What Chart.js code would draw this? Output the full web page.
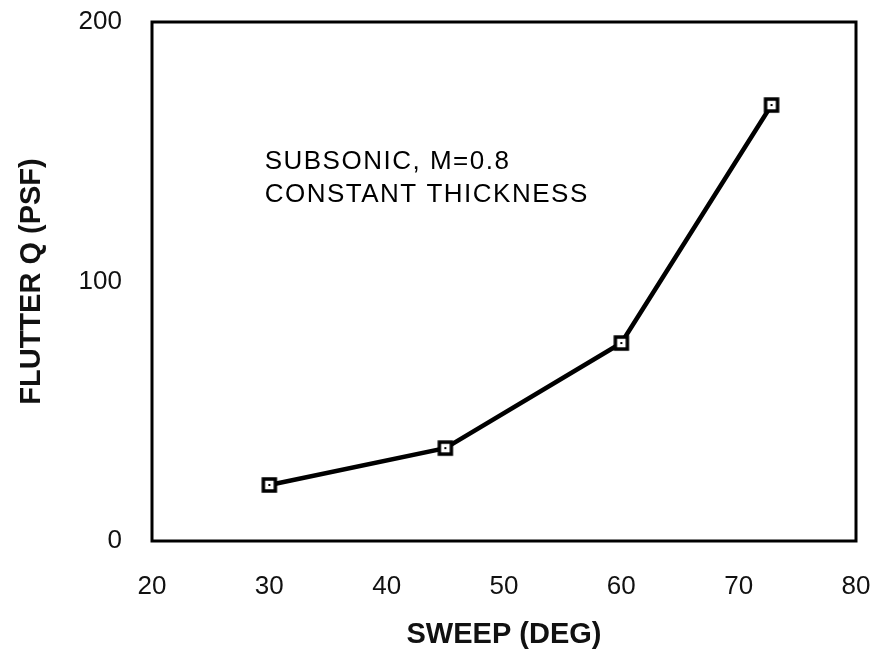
<!DOCTYPE html>
<html>
<head>
<meta charset="utf-8">
<title>Flutter Q vs Sweep</title>
<script src="https://cdn.jsdelivr.net/npm/chart.js@4"></script>
<style>
  html, body { margin: 0; padding: 0; background: #fff; }
  #wrap { width: 872px; height: 652px; }
</style>
</head>
<body>
<div id="wrap"><canvas id="chart"></canvas></div>
<script>
// Data
const sweepDeg = [30, 45, 60, 72.8];
const flutterQ = [21.6, 35.8, 76.3, 168.0];

const xTicks = [20, 30, 40, 50, 60, 70, 80];
const yTicks = [0, 100, 200];

const noteLines = ['SUBSONIC, M=0.8', 'CONSTANT THICKNESS'];
const xTitle = 'SWEEP (DEG)';
const yTitle = 'FLUTTER Q (PSF)';

const FONT = '"Liberation Sans", Arial, Helvetica, sans-serif';

// open square marker with a dot in the middle
function makeMarker() {
  const c = document.createElement('canvas');
  c.width = c.height = 18;
  const g = c.getContext('2d');
  g.fillStyle = '#fff';
  g.fillRect(2, 2, 14, 14);
  g.strokeStyle = '#000';
  g.lineWidth = 3.5;
  g.strokeRect(3, 3, 12, 12);
  g.fillStyle = '#000';
  g.fillRect(8, 8, 2, 2);
  return c;
}

// box around the plot area + the note text
const framePlugin = {
  id: 'frame',
  beforeDatasetsDraw(chart) {
    const { ctx, chartArea: a } = chart;
    ctx.save();
    ctx.strokeStyle = '#000';
    ctx.lineWidth = 3;
    ctx.strokeRect(a.left, a.top, a.right - a.left, a.bottom - a.top);
    ctx.restore();
  },
  afterDraw(chart) {
    const { ctx } = chart;
    const xs = chart.scales.x, ys = chart.scales.y;
    ctx.save();
    ctx.fillStyle = '#000';
    ctx.font = '26px ' + FONT;
    ctx.letterSpacing = '1.5px';
    ctx.textBaseline = 'middle';
    ctx.textAlign = 'left';
    const x0 = xs.getPixelForValue(29.6);
    ctx.fillText(noteLines[0], x0, ys.getPixelForValue(146));
    ctx.fillText(noteLines[1], x0, ys.getPixelForValue(133.5));
    ctx.restore();
  }
};

const ctx = document.getElementById('chart').getContext('2d');
const chart = new Chart(ctx, {
  type: 'line',
  data: {
    datasets: [{
      label: 'Flutter Q',
      data: sweepDeg.map((x, i) => ({ x, y: flutterQ[i] })),
      borderColor: '#000',
      borderWidth: 4.5,
      tension: 0,
      fill: false,
      pointStyle: makeMarker(),
      pointRadius: 9,
      pointHoverRadius: 9
    }]
  },
  options: {
    responsive: true,
    maintainAspectRatio: false,
    animation: false,
    events: [],
    layout: { padding: { top: 22, right: 16, bottom: 0, left: 0 } },
    plugins: {
      legend: { display: false },
      tooltip: { enabled: false }
    },
    scales: {
      x: {
        type: 'linear',
        min: 20,
        max: 80,
        afterBuildTicks: s => { s.ticks = xTicks.map(v => ({ value: v })); },
        afterFit: s => {
          s.height = 111;
          s.paddingLeft = 0;
          s.paddingRight = 0;
        },
        grid: { display: false, drawTicks: false },
        border: { display: false },
        ticks: {
          color: '#111',
          padding: 30,
          font: { family: FONT, size: 26 }
        },
        title: {
          display: true,
          text: xTitle,
          color: '#111',
          font: { family: FONT, size: 29, weight: 'bold' },
          padding: { top: 16, bottom: 0 }
        }
      },
      y: {
        type: 'linear',
        min: 0,
        max: 200,
        afterBuildTicks: s => { s.ticks = yTicks.map(v => ({ value: v })); },
        afterFit: s => {
          s.width = 152;
          s.paddingTop = 0;
          s.paddingBottom = 0;
        },
        grid: { display: false, drawTicks: false },
        border: { display: false },
        ticks: {
          color: '#111',
          padding: 30,
          font: { family: FONT, size: 26 }
        },
        title: {
          display: true,
          text: yTitle,
          color: '#111',
          font: { family: FONT, size: 29, weight: 'bold' },
          padding: { top: 15, bottom: 0 }
        }
      }
    }
  },
  plugins: [framePlugin]
});
</script>
</body>
</html>
